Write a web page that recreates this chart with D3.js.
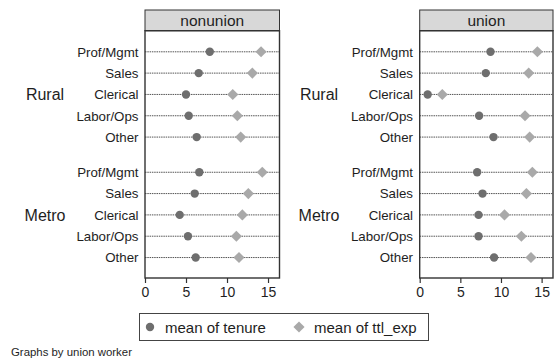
<!DOCTYPE html>
<html><head><meta charset="utf-8">
<script src="https://cdn.jsdelivr.net/npm/d3@7"></script>
<style>body{margin:0;background:#fff;} text{font-family:"Liberation Sans",Arial,sans-serif;}</style>
</head><body><svg id="c" width="554" height="360"></svg>
<script>
const panels = ["nonunion", "union"];
const groups = ["Rural", "Metro"];
const occupations = ["Prof/Mgmt", "Sales", "Clerical", "Labor/Ops", "Other"];
const xTicks = [0, 5, 10, 15];
// tenure means by panel / group, one value per occupation
const tenureNonunionRural = [7.9, 6.55, 5.0, 5.33, 6.3];
const tenureNonunionMetro = [6.62, 6.06, 4.23, 5.24, 6.18];
const tenureUnionRural = [8.71, 8.13, 0.98, 7.31, 9.08];
const tenureUnionMetro = [7.07, 7.73, 7.24, 7.24, 9.15];
const ttlNonunionRural = [14.15, 13.09, 10.7, 11.26, 11.67];
const ttlNonunionMetro = [14.3, 12.6, 11.87, 11.14, 11.46];
const ttlUnionRural = [14.48, 13.41, 2.78, 12.96, 13.53];
const ttlUnionMetro = [13.86, 13.13, 10.43, 12.51, 13.69];
const legendLabels = ["mean of tenure", "mean of ttl_exp"];
const note = "Graphs by union worker";

const tenure = [[tenureNonunionRural, tenureNonunionMetro], [tenureUnionRural, tenureUnionMetro]];
const ttl = [[ttlNonunionRural, ttlNonunionMetro], [ttlUnionRural, ttlUnionMetro]];

const svg = d3.select("#c");
const darkC = "#6e6e6e", lightC = "#a9a9a9", frameC = "#333", textC = "#1e1e1e";
const layout = [
  {x0: 145, x1: 279.5, labelRight: 138.5, groupX: 45},
  {x0: 419.7, x1: 553, labelRight: 413, groupX: 319}
];
const headTop = 10, plotTop = 30.7, plotBottom = 278;
const y = d3.scaleLinear().domain([-0.99, 10.61]).range([plotTop, plotBottom]);
const rowPos = (g, i) => g === 0 ? i : 5.65 + i;
const diamondPath = d3.symbol().type(d3.symbolSquare).size(62)();

panels.forEach((p, pi) => {
  const L = layout[pi];
  const x = d3.scaleLinear().domain([0, 16.4]).range([L.x0, L.x1]);
  const g = svg.append("g");
  g.append("rect").attr("x", L.x0).attr("y", headTop).attr("width", L.x1 - L.x0).attr("height", plotTop - headTop)
    .attr("fill", "#d8d8d8").attr("stroke", frameC).attr("stroke-width", 1);
  g.append("text").attr("x", (L.x0 + L.x1) / 2).attr("y", plotTop - 4.5).attr("text-anchor", "middle")
    .attr("font-size", 15.5).attr("fill", textC).text(p);
  groups.forEach((grp, gi) => {
    const yc = y(rowPos(gi, 2));
    g.append("text").attr("x", L.groupX).attr("y", yc + 5.8).attr("text-anchor", "middle")
      .attr("font-size", 16).attr("fill", textC).text(grp);
    occupations.forEach((occ, oi) => {
      const yy = y(rowPos(gi, oi));
      g.append("line").attr("x1", L.x0).attr("x2", L.x1).attr("y1", yy).attr("y2", yy)
        .attr("stroke", "#555").attr("stroke-width", 1).attr("stroke-dasharray", "1.5,0.8");
      g.append("text").attr("x", L.labelRight).attr("y", yy + 4.8).attr("text-anchor", "end")
        .attr("font-size", 13.3).attr("fill", textC).text(occ);
      g.append("circle").attr("cx", x(tenure[pi][gi][oi])).attr("cy", yy).attr("r", 4.2).attr("fill", darkC);
      g.append("path").attr("d", diamondPath)
        .attr("transform", `translate(${x(ttl[pi][gi][oi])},${yy}) rotate(45)`).attr("fill", lightC);
    });
  });
  g.append("rect").attr("x", L.x0).attr("y", plotTop).attr("width", L.x1 - L.x0).attr("height", plotBottom - plotTop)
    .attr("fill", "none").attr("stroke", frameC).attr("stroke-width", 1.4);
  const ax = d3.axisBottom(x).tickValues(xTicks).tickSize(5).tickPadding(4.5).tickSizeOuter(0);
  const ag = g.append("g").attr("transform", `translate(0,${plotBottom})`).call(ax);
  ag.select(".domain").remove();
  ag.selectAll("line").attr("stroke", frameC).attr("stroke-width", 1.2);
  ag.selectAll("text").attr("font-size", 14).attr("fill", textC).attr("font-family", "Liberation Sans, Arial, sans-serif");
});

const lg = svg.append("g");
lg.append("rect").attr("x", 139.5).attr("y", 313.5).attr("width", 289).attr("height", 27)
  .attr("fill", "#fff").attr("stroke", "#444").attr("stroke-width", 1);
lg.append("circle").attr("cx", 150).attr("cy", 327).attr("r", 4.2).attr("fill", darkC);
lg.append("text").attr("x", 165).attr("y", 332.5).attr("font-size", 15).attr("fill", textC).text(legendLabels[0]);
lg.append("path").attr("d", diamondPath)
  .attr("transform", "translate(299,327) rotate(45)").attr("fill", lightC);
lg.append("text").attr("x", 314).attr("y", 332.5).attr("font-size", 15).attr("fill", textC).text(legendLabels[1]);

svg.append("text").attr("x", 11).attr("y", 356).attr("font-size", 11.4).attr("fill", textC).text(note);
</script></body></html>
